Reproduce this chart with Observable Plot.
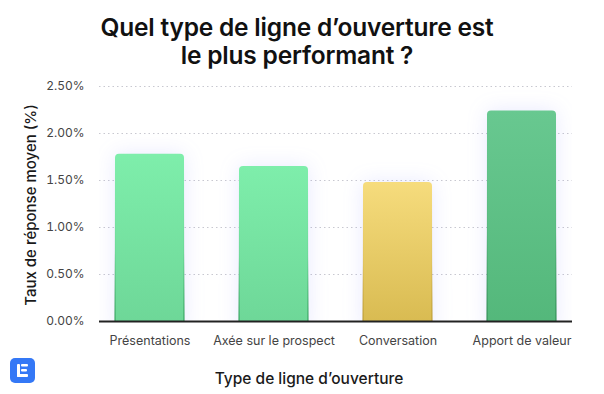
<!DOCTYPE html>
<html>
<head>
<meta charset="utf-8">
<script src="https://cdn.jsdelivr.net/npm/d3@7"></script>
<script src="https://cdn.jsdelivr.net/npm/@observablehq/plot@0.6"></script>
<style>
  body { margin: 0; background: #fff; font-family: Inter, "Noto Sans", sans-serif; }
  #wrap { position: relative; width: 604px; height: 394px; overflow: hidden; }
  #title { position: absolute; left: 0; top: 13px; width: 594px; text-align: center; font-size: 24.5px; font-weight: 600; line-height: 28px; color: #111; letter-spacing: -0.2px; }
  #ylab { position: absolute; left: 30px; top: 205px; transform: translate(-50%, -50%) rotate(-90deg); white-space: nowrap; font-size: 15px; font-weight: 500; color: #1a1a1a; }
  #xlab { position: absolute; left: 309px; top: 378px; transform: translate(-50%, -50%); white-space: nowrap; font-size: 15.5px; font-weight: 500; color: #1a1a1a; }
  #logo { position: absolute; left: 10px; top: 358px; }
</style>
</head>
<body>
<div id="wrap">
  <div id="chart"></div>
  <div id="title">Quel type de ligne d’ouverture est<br>le plus performant ?</div>
  <div id="ylab">Taux de réponse moyen (%)</div>
  <div id="xlab">Type de ligne d’ouverture</div>
  <svg id="logo" width="25" height="25" viewBox="0 0 25 25">
    <rect width="25" height="25" rx="5" fill="#3478F6"/>
    <rect x="7" y="6" width="3" height="13" rx="1" fill="#fff"/>
    <rect x="7" y="16" width="11" height="3" rx="1" fill="#fff"/>
    <rect x="11" y="6" width="7" height="2.6" rx="1" fill="#fff"/>
    <rect x="11" y="11" width="6" height="2.6" rx="1" fill="#fff"/>
  </svg>
</div>
<script>
const categories = ["Présentations", "Axée sur le prospect", "Conversation", "Apport de valeur"];
const values = [1.78, 1.65, 1.48, 2.24];
const yTicks = [0, 0.5, 1, 1.5, 2, 2.5];
const topColors = ["#7EEEAB", "#7EEEAB", "#F6DC7D", "#68C890"];
const bottomColors = ["#6DD697", "#6DD697", "#D7B94F", "#53B77A"];
const edgeColors = ["#2E9E57", "#2E9E57", "#B8982F", "#2C8A50"];

const data = categories.map((c, i) => ({cat: c, value: values[i]}));

const defs = () => {
  const d = d3.create("svg:defs");
  categories.forEach((c, i) => {
    const g = d.append("linearGradient").attr("id", "g" + i).attr("x1", 0).attr("y1", 0).attr("x2", 0).attr("y2", 1);
    g.append("stop").attr("offset", "0%").attr("stop-color", topColors[i]);
    g.append("stop").attr("offset", "100%").attr("stop-color", bottomColors[i]);
    const s = d.append("linearGradient").attr("id", "s" + i).attr("x1", 0).attr("y1", 0).attr("x2", 0).attr("y2", 1);
    s.append("stop").attr("offset", "0%").attr("stop-color", topColors[i]).attr("stop-opacity", 0);
    s.append("stop").attr("offset", "55%").attr("stop-color", edgeColors[i]).attr("stop-opacity", 0.15);
    s.append("stop").attr("offset", "100%").attr("stop-color", edgeColors[i]).attr("stop-opacity", 1);
  });
  return d.node();
};

const chart = Plot.plot({
  width: 604,
  height: 394,
  marginTop: 86,
  marginBottom: 73,
  marginLeft: 99,
  marginRight: 32,
  style: {fontFamily: "Inter, sans-serif", fontSize: "12.5px", color: "#444", background: "transparent"},
  x: {domain: categories, paddingInner: 0.44, paddingOuter: 0.12, label: null},
  y: {domain: [0, 2.5], label: null},
  color: {type: "ordinal", domain: categories, range: categories.map((c, i) => `url(#g${i})`)},
  marks: [
    defs,
    Plot.gridY(yTicks, {stroke: "#c8c8d0", strokeOpacity: 1, strokeDasharray: "1.5,3", strokeWidth: 1}),
    Plot.barY(data, {
      x: "cat", y1: () => -0.1, y2: "value", fill: "cat", rx: 4, clip: true,
      render: (index, scales, values, dims, ctx, next) => {
        const g = next(index, scales, values, dims, ctx);
        g.style.filter = "drop-shadow(0px 0px 10px rgba(110,120,255,0.16))";
        d3.select(g).selectAll("rect").each(function(_, j) {
          const i = index[j];
          d3.select(this).attr("stroke", `url(#s${i})`).attr("stroke-width", 1.2);
        });
        return g;
      }
    }),
    Plot.ruleY([0], {stroke: "#222", strokeWidth: 2}),
    Plot.axisY(yTicks, {tickSize: 0, tickPadding: 15, tickFormat: d => d.toFixed(2) + "%", label: null, fill: "#444", fontSize: 12}),
    Plot.axisX({tickSize: 0, tickPadding: 15, label: null, fill: "#444"})
  ]
});
document.getElementById("chart").appendChild(chart);
</script>
</body>
</html>
